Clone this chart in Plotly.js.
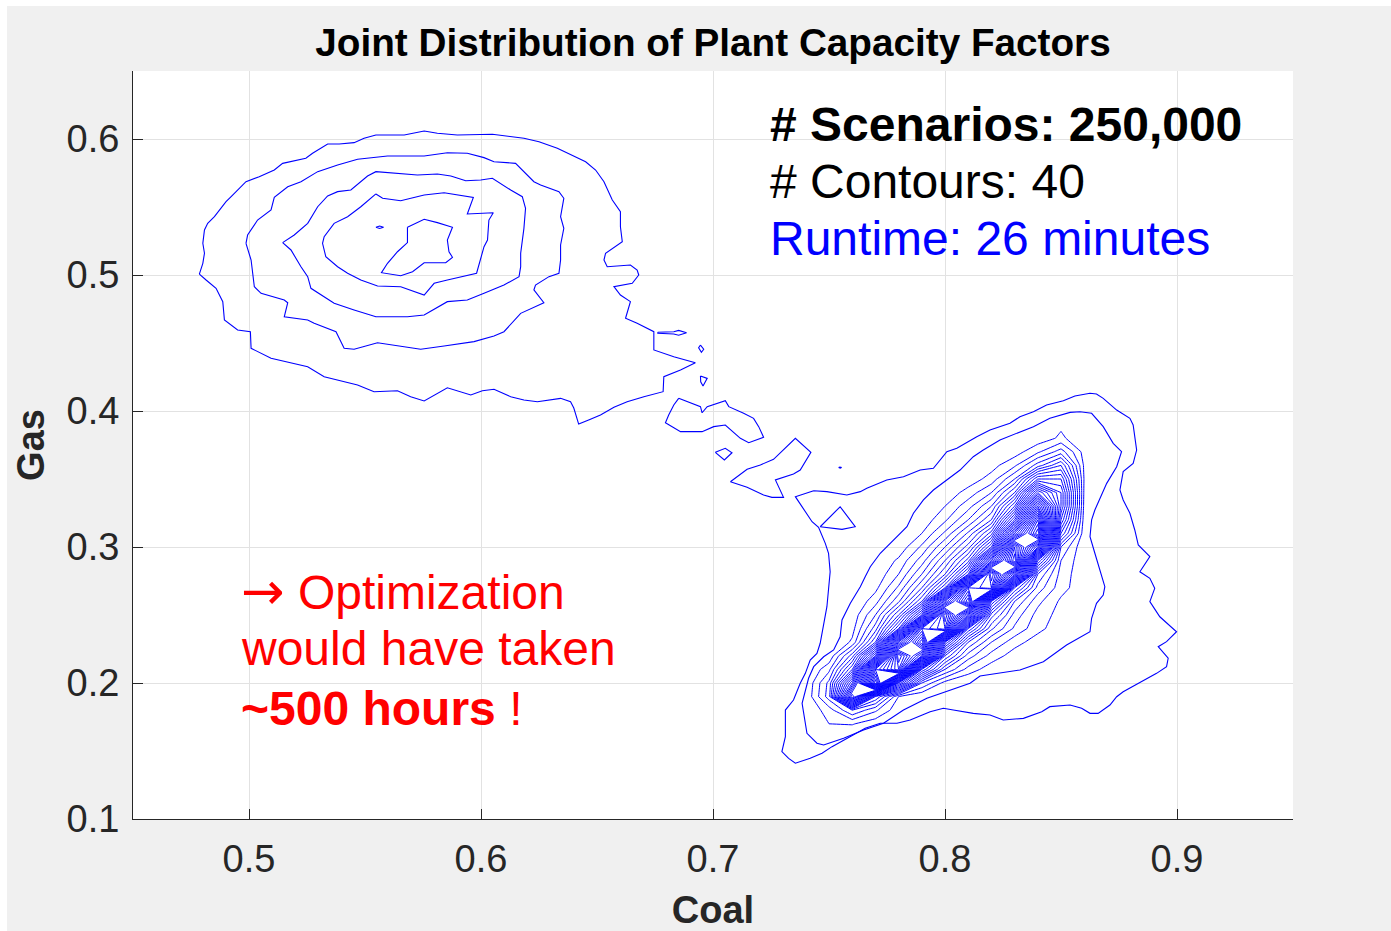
<!DOCTYPE html>
<html>
<head>
<meta charset="utf-8">
<script src="https://cdn.plot.ly/plotly-3.0.1.min.js"></script>
<style>
  html, body { margin:0; padding:0; background:#ffffff; }
  #chart { position:absolute; left:7px; top:6px; width:1384px; height:925px; }
</style>
</head>
<body>
<div id="chart"></div>
<script>
// ---------- axis ticks ----------
const xTicks = [0.5, 0.6, 0.7, 0.8, 0.9];
const xTickText = ['0.5', '0.6', '0.7', '0.8', '0.9'];
const yTicks = [0.1, 0.2, 0.3, 0.4, 0.5, 0.6];
const yTickText = ['0.1', '0.2', '0.3', '0.4', '0.5', '0.6'];

// ---------- traced contour lines (Coal, Gas) ----------
// upper-left cluster
const upperLevel1 = [[0.4786,0.5007],[0.4801,0.5086],[0.4808,0.5160],[0.4801,0.5233],[0.4808,0.5331],[0.4822,0.5380],[0.4851,0.5429],[0.4901,0.5539],[0.4923,0.5576],[0.4987,0.5686],[0.5044,0.5723],[0.5109,0.5772],[0.5145,0.5821],[0.5245,0.5858],[0.5274,0.5895],[0.5339,0.5963],[0.5389,0.5963],[0.5453,0.5973],[0.5496,0.6005],[0.5547,0.6029],[0.5669,0.6029],[0.5755,0.6059],[0.5812,0.6042],[0.5898,0.6029],[0.6049,0.6035],[0.6185,0.6005],[0.6250,0.5980],[0.6329,0.5932],[0.6451,0.5833],[0.6494,0.5772],[0.6530,0.5686],[0.6566,0.5551],[0.6601,0.5465],[0.6601,0.5355],[0.6609,0.5245],[0.6537,0.5160],[0.6530,0.5110],[0.6544,0.5061],[0.6644,0.5074],[0.6673,0.5037],[0.6680,0.5000],[0.6652,0.4939],[0.6573,0.4914],[0.6601,0.4853],[0.6644,0.4804],[0.6623,0.4682],[0.6673,0.4645],[0.6745,0.4583],[0.6745,0.4449],[0.6831,0.4399],[0.6924,0.4355],[0.6860,0.4301],[0.6788,0.4252],[0.6785,0.4142],[0.6702,0.4105],[0.6630,0.4068],[0.6573,0.4027],[0.6515,0.3971],[0.6464,0.3934],[0.6421,0.3904],[0.6400,0.4022],[0.6386,0.4068],[0.6343,0.4093],[0.6243,0.4068],[0.6185,0.4081],[0.6128,0.4105],[0.6056,0.4160],[0.6006,0.4149],[0.5956,0.4118],[0.5898,0.4149],[0.5855,0.4171],[0.5755,0.4074],[0.5697,0.4105],[0.5640,0.4149],[0.5539,0.4142],[0.5468,0.4191],[0.5353,0.4240],[0.5324,0.4252],[0.5253,0.4326],[0.5152,0.4363],[0.5095,0.4388],[0.5009,0.4461],[0.5006,0.4583],[0.4951,0.4596],[0.4894,0.4669],[0.4887,0.4804],[0.4858,0.4902],[0.4815,0.4963],[0.4786,0.5007]];
const upperLevel2 = [[0.4987,0.5233],[0.5009,0.5110],[0.5023,0.4914],[0.5052,0.4865],[0.5152,0.4816],[0.5167,0.4796],[0.5152,0.4693],[0.5253,0.4669],[0.5281,0.4645],[0.5375,0.4583],[0.5410,0.4461],[0.5453,0.4454],[0.5554,0.4502],[0.5740,0.4454],[0.5841,0.4478],[0.5970,0.4510],[0.6056,0.4551],[0.6099,0.4583],[0.6171,0.4718],[0.6271,0.4796],[0.6228,0.4890],[0.6235,0.4926],[0.6293,0.4988],[0.6336,0.5013],[0.6343,0.5110],[0.6343,0.5221],[0.6357,0.5343],[0.6343,0.5429],[0.6357,0.5564],[0.6336,0.5613],[0.6257,0.5662],[0.6228,0.5686],[0.6149,0.5821],[0.6056,0.5833],[0.6013,0.5863],[0.5941,0.5895],[0.5855,0.5899],[0.5755,0.5875],[0.5597,0.5875],[0.5468,0.5851],[0.5382,0.5809],[0.5296,0.5760],[0.5224,0.5686],[0.5167,0.5649],[0.5109,0.5571],[0.5095,0.5478],[0.5037,0.5404],[0.4994,0.5294],[0.4987,0.5233]];
const upperLevel3 = [[0.5145,0.5238],[0.5181,0.5184],[0.5224,0.5061],[0.5253,0.4988],[0.5267,0.4902],[0.5324,0.4840],[0.5367,0.4792],[0.5453,0.4743],[0.5547,0.4693],[0.5683,0.4693],[0.5755,0.4706],[0.5855,0.4804],[0.5941,0.4816],[0.6013,0.4865],[0.6099,0.4926],[0.6164,0.4988],[0.6171,0.5061],[0.6171,0.5160],[0.6185,0.5343],[0.6192,0.5490],[0.6178,0.5576],[0.6128,0.5625],[0.6085,0.5674],[0.6049,0.5711],[0.5999,0.5699],[0.5934,0.5693],[0.5870,0.5728],[0.5812,0.5743],[0.5726,0.5735],[0.5582,0.5752],[0.5547,0.5760],[0.5511,0.5728],[0.5439,0.5625],[0.5382,0.5613],[0.5339,0.5581],[0.5296,0.5502],[0.5253,0.5380],[0.5195,0.5294],[0.5145,0.5238]];
const upperLevel4 = [[0.5547,0.5596],[0.5576,0.5564],[0.5654,0.5546],[0.5755,0.5588],[0.5841,0.5605],[0.5898,0.5588],[0.5967,0.5571],[0.5941,0.5449],[0.6053,0.5458],[0.6034,0.5404],[0.6028,0.5257],[0.6013,0.5208],[0.5991,0.5086],[0.5981,0.5013],[0.5855,0.4963],[0.5798,0.4939],[0.5755,0.4853],[0.5690,0.4895],[0.5654,0.4914],[0.5554,0.4919],[0.5482,0.4963],[0.5425,0.5013],[0.5382,0.5061],[0.5331,0.5135],[0.5317,0.5233],[0.5324,0.5282],[0.5367,0.5380],[0.5425,0.5429],[0.5482,0.5502],[0.5547,0.5596]];
const upperLevel5 = [[0.5683,0.5351],[0.5755,0.5410],[0.5812,0.5385],[0.5877,0.5351],[0.5855,0.5257],[0.5862,0.5171],[0.5877,0.5130],[0.5848,0.5090],[0.5755,0.5090],[0.5705,0.5024],[0.5654,0.4995],[0.5611,0.5007],[0.5571,0.5017],[0.5597,0.5086],[0.5640,0.5171],[0.5683,0.5238],[0.5683,0.5351]];
const upperSpeck = [[0.5547,0.5351],[0.5563,0.5360],[0.5580,0.5351],[0.5563,0.5342],[0.5547,0.5351]];

// bridge islands
const bridge1 = [[0.6762,0.4579],[0.6831,0.4583],[0.6852,0.4593],[0.6886,0.4576],[0.6852,0.4557],[0.6831,0.4566],[0.6762,0.4571],[0.6762,0.4579]];
const bridge2 = [[0.6946,0.4485],[0.6960,0.4454],[0.6950,0.4432],[0.6938,0.4465],[0.6946,0.4485]];
const bridge3 = [[0.6946,0.4257],[0.6975,0.4240],[0.6957,0.4184],[0.6947,0.4215],[0.6946,0.4257]];
const bridge4 = [[0.6852,0.4093],[0.6946,0.4032],[0.6953,0.3987],[0.6975,0.4032],[0.7053,0.4076],[0.7068,0.4032],[0.7132,0.3983],[0.7175,0.3946],[0.7197,0.3885],[0.7218,0.3807],[0.7154,0.3767],[0.7118,0.3799],[0.7053,0.3897],[0.7003,0.3885],[0.6953,0.3848],[0.6860,0.3848],[0.6795,0.3914],[0.6809,0.3971],[0.6831,0.4044],[0.6852,0.4093]];
const bridge5 = [[0.7010,0.3696],[0.7053,0.3726],[0.7082,0.3693],[0.7049,0.3640],[0.7010,0.3696]];
const bridge6 = [[0.7075,0.3480],[0.7147,0.3571],[0.7204,0.3603],[0.7261,0.3645],[0.7355,0.3799],[0.7422,0.3696],[0.7376,0.3566],[0.7347,0.3537],[0.7269,0.3493],[0.7304,0.3365],[0.7254,0.3365],[0.7218,0.3382],[0.7147,0.3439],[0.7075,0.3480]];
const bridgeSpeck = [[0.7548,0.3589],[0.7554,0.3584],[0.7548,0.3579],[0.7542,0.3584],[0.7548,0.3589]];
const bridgeTriangle = [[0.7462,0.3149],[0.7548,0.3296],[0.7613,0.3149],[0.7556,0.3130],[0.7462,0.3149]];

// lower-right cluster, outer levels
const lowerLevel1 = [[0.7434,0.3414],[0.7491,0.3407],[0.7577,0.3382],[0.7635,0.3407],[0.7663,0.3432],[0.7749,0.3493],[0.7821,0.3517],[0.7893,0.3566],[0.7950,0.3579],[0.7979,0.3640],[0.8008,0.3701],[0.8051,0.3726],[0.8137,0.3811],[0.8194,0.3860],[0.8280,0.3910],[0.8323,0.3958],[0.8381,0.3995],[0.8438,0.4044],[0.8510,0.4076],[0.8560,0.4110],[0.8625,0.4130],[0.8653,0.4125],[0.8682,0.4093],[0.8740,0.4007],[0.8797,0.3946],[0.8811,0.3897],[0.8818,0.3811],[0.8826,0.3713],[0.8811,0.3615],[0.8768,0.3554],[0.8754,0.3419],[0.8768,0.3346],[0.8797,0.3248],[0.8818,0.3125],[0.8833,0.3015],[0.8883,0.2929],[0.8840,0.2818],[0.8883,0.2770],[0.8904,0.2696],[0.8883,0.2598],[0.8926,0.2487],[0.8998,0.2377],[0.8955,0.2304],[0.8919,0.2267],[0.8962,0.2182],[0.8955,0.2120],[0.8912,0.2071],[0.8811,0.1973],[0.8768,0.1936],[0.8740,0.1899],[0.8711,0.1838],[0.8660,0.1777],[0.8625,0.1777],[0.8589,0.1814],[0.8539,0.1838],[0.8452,0.1826],[0.8417,0.1789],[0.8338,0.1740],[0.8251,0.1728],[0.8194,0.1765],[0.8122,0.1777],[0.8036,0.1801],[0.7993,0.1814],[0.7936,0.1789],[0.7850,0.1728],[0.7793,0.1704],[0.7721,0.1704],[0.7656,0.1667],[0.7577,0.1593],[0.7513,0.1532],[0.7470,0.1483],[0.7419,0.1446],[0.7355,0.1410],[0.7326,0.1446],[0.7297,0.1495],[0.7312,0.1605],[0.7312,0.1801],[0.7347,0.1875],[0.7376,0.1998],[0.7398,0.2071],[0.7419,0.2169],[0.7448,0.2218],[0.7462,0.2292],[0.7477,0.2439],[0.7491,0.2561],[0.7505,0.2818],[0.7498,0.2954],[0.7484,0.3027],[0.7455,0.3145],[0.7427,0.3186],[0.7376,0.3321],[0.7355,0.3370],[0.7434,0.3414]];
const lowerLevel2 = [[0.7656,0.2782],[0.7678,0.2855],[0.7721,0.2954],[0.7749,0.3002],[0.7793,0.3076],[0.7836,0.3149],[0.7864,0.3248],[0.7907,0.3346],[0.7950,0.3419],[0.8008,0.3493],[0.8065,0.3566],[0.8122,0.3664],[0.8165,0.3713],[0.8237,0.3787],[0.8381,0.3885],[0.8452,0.3946],[0.8539,0.3990],[0.8582,0.3995],[0.8632,0.3983],[0.8682,0.3885],[0.8725,0.3762],[0.8761,0.3701],[0.8740,0.3590],[0.8697,0.3468],[0.8646,0.3272],[0.8632,0.3199],[0.8625,0.3076],[0.8646,0.2954],[0.8668,0.2831],[0.8689,0.2708],[0.8682,0.2647],[0.8653,0.2586],[0.8632,0.2476],[0.8625,0.2377],[0.8524,0.2279],[0.8424,0.2157],[0.8323,0.2096],[0.8237,0.2071],[0.8151,0.2051],[0.8108,0.1998],[0.8022,0.1949],[0.7922,0.1888],[0.7821,0.1801],[0.7735,0.1704],[0.7649,0.1654],[0.7563,0.1593],[0.7477,0.1544],[0.7448,0.1557],[0.7405,0.1630],[0.7384,0.1851],[0.7412,0.2035],[0.7434,0.2120],[0.7477,0.2193],[0.7520,0.2243],[0.7548,0.2340],[0.7556,0.2463],[0.7592,0.2586],[0.7635,0.2708],[0.7656,0.2782]];

// lower-right cluster core: contour level on a grid (levels 3..39 drawn from it)
const coreCoal = [0.73,0.74,0.75,0.76,0.77,0.78,0.79,0.80,0.81,0.82,0.83,0.84,0.85,0.86,0.87,0.88,0.89,0.90];
const coreGas = [0.15,0.16,0.17,0.18,0.19,0.20,0.21,0.22,0.23,0.24,0.25,0.26,0.27,0.28,0.29,0.30,0.31,0.32,0.33,0.34,0.35,0.36,0.37,0.38,0.39,0.40];
const coreLevel = [
  [1.0,1.6,1.7,1.4,1.0,0.8,0.5,0.4,0.3,0.3,0.2,0.2,0.1,0.1,0.1,0.1,0.1,0.1],
  [1.3,1.95,2.3,1.8,1.2,0.9,0.6,0.5,0.4,0.3,0.3,0.2,0.2,0.1,0.1,0.1,0.1,0.1],
  [1.4,2.05,3.0,3.1,2.3,1.5,1.0,0.7,0.5,0.4,0.3,0.3,0.2,0.2,0.1,0.1,0.1,0.1],
  [1.4,2.1,3.5,6.0,4.2,2.3,1.5,1.0,0.7,0.5,0.4,0.3,0.3,0.2,0.2,0.1,0.1,0.1],
  [1.44,2.16,5.5,22.0,8.0,3.0,2.1,1.5,0.8,0.5,0.4,0.3,0.2,0.2,0.1,0.1,0.1,0.1],
  [1.3,2.0,5.3,16.0,34.0,14.0,5.0,2.6,1.93,1.2,0.8,0.5,0.4,0.3,0.2,0.2,0.1,0.1],
  [1.1,1.8,3.7,10.0,30.0,36.0,12.0,6.0,3.6,2.4,2.0,1.45,0.9,0.6,0.4,0.3,0.2,0.1],
  [0.75,1.45,2.2,6.5,16.0,38.0,30.0,10.0,5.5,3.6,2.5,2.05,1.5,1.0,0.6,0.4,0.3,0.2],
  [0.5,0.95,1.65,3.2,9.0,28.0,38.0,16.0,8.0,5.0,3.4,2.5,2.05,1.5,1.0,0.6,0.4,0.3],
  [0.4,0.9,1.6,2.6,6.5,14.0,33.0,36.0,13.0,7.2,4.8,3.3,2.4,2.0,1.5,1.0,0.7,0.5],
  [0.3,0.85,1.55,2.3,5.0,10.0,18.0,38.0,26.0,9.5,5.6,3.6,2.6,2.05,1.55,1.05,0.75,0.5],
  [0.3,0.6,1.3,1.95,3.6,6.8,12.0,28.0,38.0,14.0,7.0,4.3,2.8,2.1,1.7,1.2,0.8,0.5],
  [0.2,0.5,1.05,1.75,2.7,5.2,9.0,15.0,34.0,36.0,11.0,5.6,3.4,2.3,1.93,1.2,0.8,0.5],
  [0.2,0.4,0.85,1.55,2.2,4.0,7.0,11.0,18.0,38.0,26.0,7.0,3.6,2.25,1.8,1.1,0.7,0.4],
  [0.1,0.3,0.6,1.3,2.0,3.2,5.5,9.0,13.5,26.0,38.0,12.0,4.0,2.2,1.7,1.0,0.6,0.4],
  [0.1,0.2,0.5,0.9,1.6,2.3,4.2,7.0,10.5,17.0,36.0,26.0,5.0,2.1,1.5,0.9,0.5,0.3],
  [0.1,0.15,0.3,0.6,1.2,1.93,3.0,5.2,8.2,12.5,26.0,36.0,9.0,2.3,1.5,0.9,0.5,0.3],
  [0.1,0.1,0.2,0.4,0.9,1.7,2.3,3.8,6.0,9.0,18.0,33.0,12.0,2.5,1.5,0.9,0.5,0.3],
  [0.1,0.1,0.15,0.3,0.7,1.35,2.0,3.0,4.6,7.0,13.0,27.0,14.0,2.7,1.7,1.0,0.6,0.3],
  [0.1,0.1,0.1,0.2,0.5,0.9,1.75,2.3,3.4,5.0,9.0,19.0,14.0,2.8,1.8,1.1,0.6,0.3],
  [0.1,0.1,0.1,0.1,0.3,0.6,1.2,1.93,2.4,3.4,6.0,12.0,12.0,2.9,2.0,1.35,0.7,0.3],
  [0.1,0.1,0.1,0.1,0.1,0.3,0.9,1.6,2.06,2.6,3.8,6.5,9.0,2.8,2.06,1.6,0.9,0.4],
  [0.1,0.1,0.1,0.1,0.1,0.1,0.4,1.0,1.7,2.1,2.5,3.8,5.5,2.6,2.07,1.7,1.0,0.5],
  [0.1,0.1,0.1,0.1,0.1,0.1,0.1,0.5,1.0,1.6,2.05,2.37,3.2,2.24,2.0,1.45,0.9,0.4],
  [0.1,0.1,0.1,0.1,0.1,0.1,0.1,0.1,0.4,0.8,1.3,1.9,2.8,2.5,1.9,1.2,0.6,0.3],
  [0.1,0.1,0.1,0.1,0.1,0.1,0.1,0.1,0.2,0.2,0.8,1.3,1.6,1.6,1.2,0.7,0.2,0.1]
];

// ---------- text ----------
const infoLines = ['<b># Scenarios: 250,000</b>', '# Contours: 40', 'Runtime: 26 minutes'];
const infoColors = ['#000000', '#000000', '#0000ff'];
const noteLines = ['<span style="font-family:DejaVu Sans;font-size:52px">\u2192</span> Optimization', 'would have taken', '<b>~500 hours</b> !'];

const BLUE = '#0000ff';
const traced = [upperLevel1, upperLevel2, upperLevel3, upperLevel4, upperLevel5, upperSpeck,
  bridge1, bridge2, bridge3, bridge4, bridge5, bridge6, bridgeSpeck, bridgeTriangle,
  lowerLevel1, lowerLevel2];

const traces = traced.map(pts => ({
  type: 'scatter', mode: 'lines',
  x: pts.map(p => p[0]), y: pts.map(p => p[1]),
  line: { color: BLUE, width: 1.1 },
  hoverinfo: 'skip', showlegend: false
}));

traces.push({
  type: 'contour',
  x: coreCoal, y: coreGas, z: coreLevel,
  autocontour: false,
  contours: { start: 3, end: 39, size: 1, coloring: 'none', showlines: true },
  line: { color: BLUE, width: 1, smoothing: 0 },
  showscale: false, hoverinfo: 'skip', showlegend: false
});

const FONT = 'Liberation Sans, Arial, Helvetica, sans-serif';
const annotations = [];
const infoY = [0.6103, 0.5691, 0.5265];
infoLines.forEach((t, i) => annotations.push({
  x: 0.7236, y: infoY[i], xref: 'x', yref: 'y', xanchor: 'left', yanchor: 'middle',
  text: t, showarrow: false, font: { family: FONT, size: 48, color: infoColors[i] }
}));
const noteY = [0.2676, 0.2257, 0.1816];
noteLines.forEach((t, i) => annotations.push({
  x: 0.4958, y: noteY[i], xref: 'x', yref: 'y', xanchor: 'left', yanchor: 'middle',
  text: t, showarrow: false, font: { family: FONT, size: 48, color: '#ff0000' }
}));

const axisCommon = {
  ticks: 'inside', ticklen: 10, tickwidth: 1, tickcolor: '#262626',
  showline: true, linecolor: '#262626', linewidth: 1, mirror: false,
  showgrid: true, gridcolor: '#e2e2e2', gridwidth: 1, zeroline: false,
  tickfont: { family: FONT, size: 38, color: '#262626' }, fixedrange: true
};

const layout = {
  width: 1384, height: 925,
  paper_bgcolor: '#f0f0f0', plot_bgcolor: '#ffffff',
  margin: { l: 126, r: 98, t: 65, b: 112, pad: 0 },
  font: { family: FONT, color: '#262626' },
  showlegend: false,
  title: {
    text: 'Joint Distribution of Plant Capacity Factors',
    font: { family: FONT, size: 38.7, color: '#000000', weight: 'bold' },
    x: 0.5, xref: 'paper', xanchor: 'center',
    y: 1 - 36 / 925, yref: 'container', yanchor: 'middle'
  },
  xaxis: Object.assign({}, axisCommon, {
    range: [0.45, 0.95], tickvals: xTicks, ticktext: xTickText, ticklabelstandoff: 6,
    title: { text: 'Coal', font: { family: FONT, size: 38, color: '#262626', weight: 'bold' }, standoff: 20 }
  }),
  yaxis: Object.assign({}, axisCommon, {
    range: [0.1, 0.65], tickvals: yTicks, ticktext: yTickText, ticklabelstandoff: 5,
    title: { text: 'Gas', font: { family: FONT, size: 38, color: '#262626', weight: 'bold' }, standoff: 10 }
  }),
  annotations: annotations
};

Plotly.newPlot('chart', traces, layout, { displayModeBar: false, staticPlot: true });
</script>
</body>
</html>
